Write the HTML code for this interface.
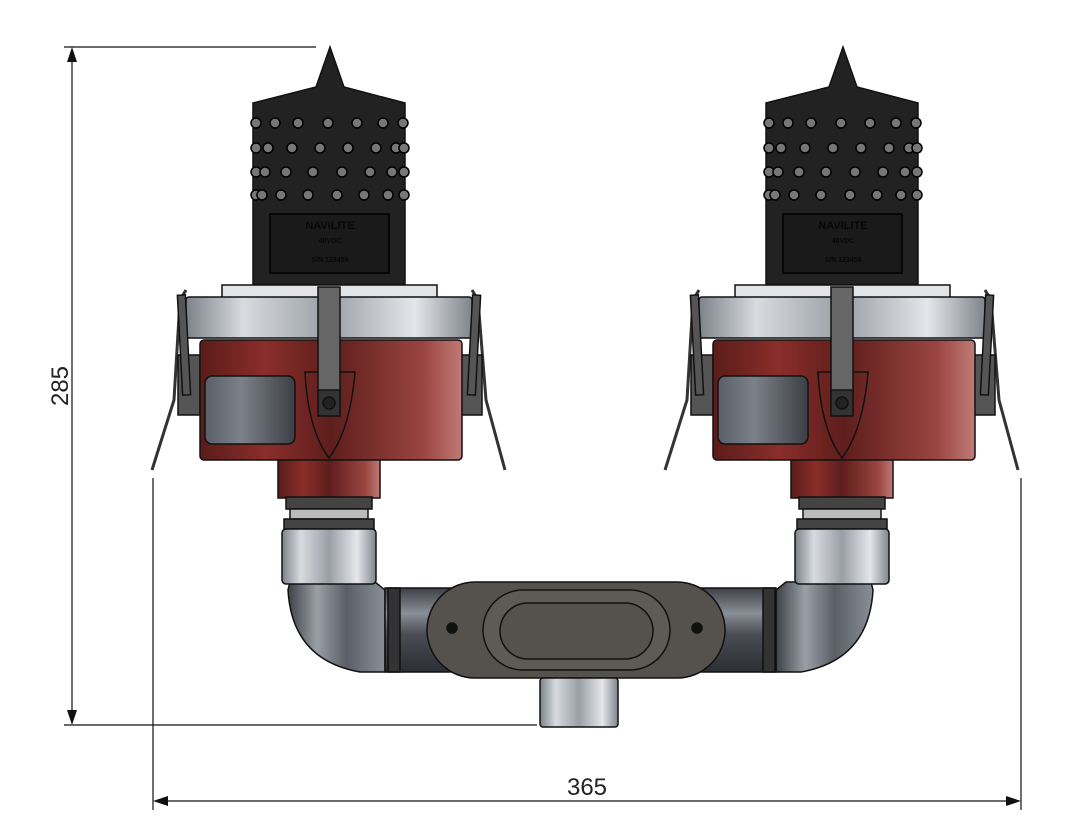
<!DOCTYPE html>
<html><head><meta charset="utf-8"><style>
html,body{margin:0;padding:0;background:#fff;width:1082px;height:840px;overflow:hidden}
svg{display:block}
text{font-family:"Liberation Sans",sans-serif}
</style></head><body>
<svg width="1082" height="840" viewBox="0 0 1082 840" xmlns="http://www.w3.org/2000/svg">
<defs>
<linearGradient id="silver" x1="0" x2="1" y1="0" y2="0">
<stop offset="0" stop-color="#7d828a"/><stop offset="0.2" stop-color="#d8dbe0"/><stop offset="0.5" stop-color="#9a9ea6"/><stop offset="0.8" stop-color="#e4e6ea"/><stop offset="1" stop-color="#80848c"/></linearGradient>
<linearGradient id="elb" x1="0" x2="1" y1="0" y2="0">
<stop offset="0" stop-color="#3e4148"/><stop offset="0.3" stop-color="#9a9ea6"/><stop offset="0.6" stop-color="#5a5e66"/><stop offset="1" stop-color="#8a8e96"/></linearGradient>
<linearGradient id="red" x1="0" x2="1" y1="0" y2="0">
<stop offset="0" stop-color="#5a1c1a"/><stop offset="0.25" stop-color="#8a2e2a"/><stop offset="0.5" stop-color="#5e1e1c"/><stop offset="0.85" stop-color="#9a4440"/><stop offset="1" stop-color="#c07a76"/></linearGradient>
<linearGradient id="pipe" x1="0" x2="0" y1="0" y2="1">
<stop offset="0" stop-color="#3e4148"/><stop offset="0.3" stop-color="#8a8e96"/><stop offset="0.55" stop-color="#4a4d54"/><stop offset="1" stop-color="#2c2e33"/></linearGradient>
<linearGradient id="win" x1="0" x2="1"><stop offset="0" stop-color="#5a5e66"/><stop offset="0.4" stop-color="#7c8088"/><stop offset="1" stop-color="#3c3f45"/></linearGradient>
<g id="lamp" stroke="#111" stroke-width="1.5">
  <path d="M186 290 L180 300 L174 400 L152 470" fill="none" stroke="#333" stroke-width="3"/>
  <path d="M472 290 L478 300 L486 400 L505 470" fill="none" stroke="#333" stroke-width="3"/>
  <rect x="178" y="355" width="22" height="60" fill="#555"/>
  <rect x="460" y="355" width="22" height="60" fill="#555"/>
  <rect x="278" y="458" width="102" height="40" fill="url(#red)"/>
  <rect x="286" y="497" width="86" height="12" fill="#444"/>
  <rect x="290" y="509" width="78" height="10" fill="#bbb"/>
  <rect x="284" y="519" width="90" height="10" fill="#444"/>
  <rect x="282" y="529" width="94" height="55" rx="4" fill="url(#silver)"/>
  <path d="M316 87 L330 47 L344 87 L405 103 L405 285 L253 285 L253 103 Z" fill="#222"/>
  <rect x="270" y="214" width="119" height="59" fill="#1a1a1a" stroke="#000"/>
  <rect x="222" y="285" width="215" height="13" fill="#e2e4e8"/>
  <rect x="186" y="297" width="286" height="41" rx="3" fill="url(#silver)"/>
  <rect x="200" y="340" width="262" height="120" rx="4" fill="url(#red)"/>
  <rect x="205" y="376" width="90" height="68" rx="7" fill="url(#win)"/>
  <path d="M305 372 L355 372 Q350 430 329 458 Q308 430 305 372 Z" fill="none"/>
  <rect x="318" y="287" width="22" height="112" fill="#666"/>
  <rect x="318" y="390" width="22" height="26" fill="#333"/>
  <circle cx="329" cy="403" r="6" fill="#222"/>
  <rect x="180" y="295" width="8" height="100" fill="#555" transform="rotate(-3 184 345)"/>
  <rect x="470" y="295" width="8" height="100" fill="#555" transform="rotate(3 474 345)"/>
</g>
<g id="dots" fill="#777" stroke="#000" stroke-width="1.5">
  <circle cx="256" cy="123" r="5"/><circle cx="275" cy="123" r="5"/><circle cx="298" cy="123" r="5"/><circle cx="328" cy="123" r="5"/><circle cx="357" cy="123" r="5"/><circle cx="383" cy="123" r="5"/><circle cx="403" cy="123" r="5"/>
  <circle cx="256" cy="148" r="5"/><circle cx="268" cy="148" r="5"/><circle cx="292" cy="148" r="5"/><circle cx="320" cy="148" r="5"/><circle cx="348" cy="148" r="5"/><circle cx="376" cy="148" r="5"/><circle cx="396" cy="148" r="5"/><circle cx="404" cy="148" r="5"/>
  <circle cx="256" cy="172" r="5"/><circle cx="265" cy="172" r="5"/><circle cx="286" cy="172" r="5"/><circle cx="313" cy="172" r="5"/><circle cx="342" cy="172" r="5"/><circle cx="370" cy="172" r="5"/><circle cx="392" cy="172" r="5"/><circle cx="404" cy="172" r="5"/>
  <circle cx="256" cy="195" r="5"/><circle cx="262" cy="195" r="5"/><circle cx="281" cy="195" r="5"/><circle cx="308" cy="195" r="5"/><circle cx="337" cy="195" r="5"/><circle cx="364" cy="195" r="5"/><circle cx="388" cy="195" r="5"/><circle cx="404" cy="195" r="5"/>
</g>
</defs>

<g stroke="#111" stroke-width="1.5">
  <path d="M290 582 L375 582 L385 590 L385 672 L360 672 Q292 660 288 590 Z" fill="url(#elb)"/>
  <path d="M871 582 L786 582 L776 590 L776 672 L801 672 Q869 660 873 590 Z" fill="url(#elb)"/>
  <rect x="385" y="588" width="391" height="84" fill="url(#pipe)"/>
  <rect x="388" y="588" width="12" height="84" fill="#333"/>
  <rect x="763" y="588" width="12" height="84" fill="#333"/>
  <rect x="427" y="582" width="298" height="96" rx="48" fill="#55524e"/>
  <rect x="483" y="590" width="187" height="80" rx="40" fill="#5e5a56"/>
  <rect x="500" y="603" width="153" height="56" rx="28" fill="#55524e"/>
  <circle cx="452" cy="628" r="5" fill="#111"/><circle cx="697" cy="628" r="5" fill="#111"/>
  <rect x="540" y="678" width="78" height="49" rx="3" fill="url(#silver)"/>
</g>

<use href="#lamp"/>
<use href="#dots"/>
<use href="#lamp" transform="translate(513 0)"/>
<use href="#dots" transform="translate(513 0)"/>

<g font-weight="bold" fill="#080808" text-anchor="middle">
<text x="330" y="229" font-size="11">NAVILITE</text>
<text x="330" y="243" font-size="7">48VDC</text>
<text x="330" y="262" font-size="7">S/N 123456</text>
<text x="843" y="229" font-size="11">NAVILITE</text>
<text x="843" y="243" font-size="7">48VDC</text>
<text x="843" y="262" font-size="7">S/N 123456</text>
</g>

<g stroke="#111" stroke-width="1.2" fill="none">
  <line x1="64" y1="47" x2="316" y2="47"/>
  <line x1="64" y1="725" x2="537" y2="725"/>
  <line x1="72" y1="50" x2="72" y2="722"/>
  <line x1="153" y1="478" x2="153" y2="810"/>
  <line x1="1021" y1="478" x2="1021" y2="810"/>
  <line x1="156" y1="801" x2="1018" y2="801"/>
</g>
<g fill="#111">
  <path d="M72 47 L67 62 L77 62 Z"/>
  <path d="M72 725 L67 710 L77 710 Z"/>
  <path d="M153 801 L168 796 L168 806 Z"/>
  <path d="M1021 801 L1006 796 L1006 806 Z"/>
</g>
<text x="587" y="795" font-size="24" text-anchor="middle" fill="#222">365</text>
<text transform="translate(68 386) rotate(-90)" font-size="24" text-anchor="middle" fill="#222">285</text>
</svg>
</body></html>
